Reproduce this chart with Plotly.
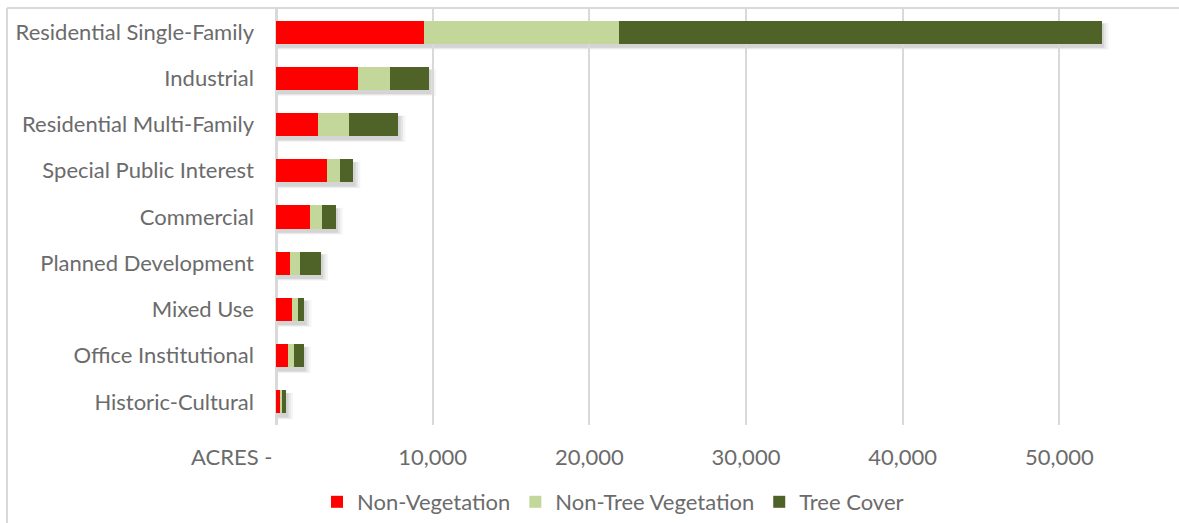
import plotly.graph_objects as go

# Land-use categories (top to bottom) and acreage by cover type
categories = [
    "Residential Single-Family",
    "Industrial",
    "Residential Multi-Family",
    "Special Public Interest",
    "Commercial",
    "Planned Development",
    "Mixed Use",
    "Office Institutional",
    "Historic-Cultural",
]
non_vegetation = [9450, 5220, 2680, 3240, 2170, 870, 1020, 750, 255]
non_tree_vegetation = [12450, 2040, 2000, 850, 770, 680, 370, 400, 145]
tree_cover = [30800, 2510, 3130, 850, 870, 1320, 420, 620, 240]

series_names = ["Non-Vegetation", "Non-Tree Vegetation", "Tree Cover"]
series_colors = ["#FF0000", "#C4D79B", "#4F6228"]

tick_values = [0, 10000, 20000, 30000, 40000, 50000]
tick_labels = ["", "10,000", "20,000", "30,000", "40,000", "50,000"]

W, H = 1179, 523
FONT = "Lato, Carlito, 'Open Sans', sans-serif"
TEXT = "#6b6b6b"
FS = 22

fig = go.Figure()
for name, vals, color in zip(series_names,
                             [non_vegetation, non_tree_vegetation, tree_cover],
                             series_colors):
    fig.add_trace(go.Bar(
        y=categories, x=vals, name=name, orientation="h",
        marker=dict(color=color, line=dict(width=0)),
    ))

# soft drop shadow under each stacked bar
totals = [a + b + c for a, b, c in zip(non_vegetation, non_tree_vegetation, tree_cover)]
shapes = []
for i, tot in enumerate(totals):
    for k, op in enumerate([0.08, 0.06, 0.04]):
        d = 0.02 * (k + 1)
        shapes.append(dict(
            type="rect", xref="x", yref="y", layer="below",
            x0=0, x1=tot + 150 * (k + 1),
            y0=i - 0.25 + 0.07 - d * 0.3, y1=i + 0.25 + 0.07 + d,
            fillcolor=f"rgba(0,0,0,{op})", line=dict(width=0),
        ))

# outer frame edges (top and left)
fx = (7 - 276) / (1169 - 276)
shapes.append(dict(type="line", xref="paper", yref="paper",
                   x0=fx, x1=1.2, y0=1 + 1 / 416, y1=1 + 1 / 416,
                   line=dict(color="#d9d9d9", width=2)))
shapes.append(dict(type="line", xref="paper", yref="paper",
                   x0=fx, x1=fx, y0=1 + 1 / 416, y1=-100 / 416,
                   line=dict(color="#d9d9d9", width=2)))
fig.update_layout(shapes=shapes)

fig.add_annotation(
    x=0, xref="x", y=-31 / 416, yref="paper",
    text="ACRES -", showarrow=False, xanchor="right", yanchor="middle",
    xshift=-2, font=dict(family=FONT, size=FS, color=TEXT),
)

fig.update_layout(
    width=W, height=H,
    margin=dict(l=276, r=W - 1169, t=9, b=H - 425),
    barmode="stack", bargap=0.5,
    plot_bgcolor="white", paper_bgcolor="white",
    font=dict(family=FONT, size=FS, color=TEXT),
    showlegend=True,
    legend=dict(
        orientation="h", xref="container", yref="container",
        x=613 / W, xanchor="center", y=1 - 502 / H, yanchor="middle",
        font=dict(family=FONT, size=FS, color=TEXT),
        itemwidth=30, traceorder="normal",
    ),
    xaxis=dict(
        range=[0, 57000], tickvals=tick_values, ticktext=tick_labels,
        showgrid=True, gridcolor="#d9d9d9", gridwidth=2,
        zeroline=True, zerolinecolor="#d9d9d9", zerolinewidth=3,
        ticks="", ticklabelstandoff=17, fixedrange=True,
    ),
    yaxis=dict(
        categoryorder="array", categoryarray=categories, autorange="reversed",
        showgrid=False, ticks="", ticklabelstandoff=21,
    ),
)

fig.write_html("out.html")
